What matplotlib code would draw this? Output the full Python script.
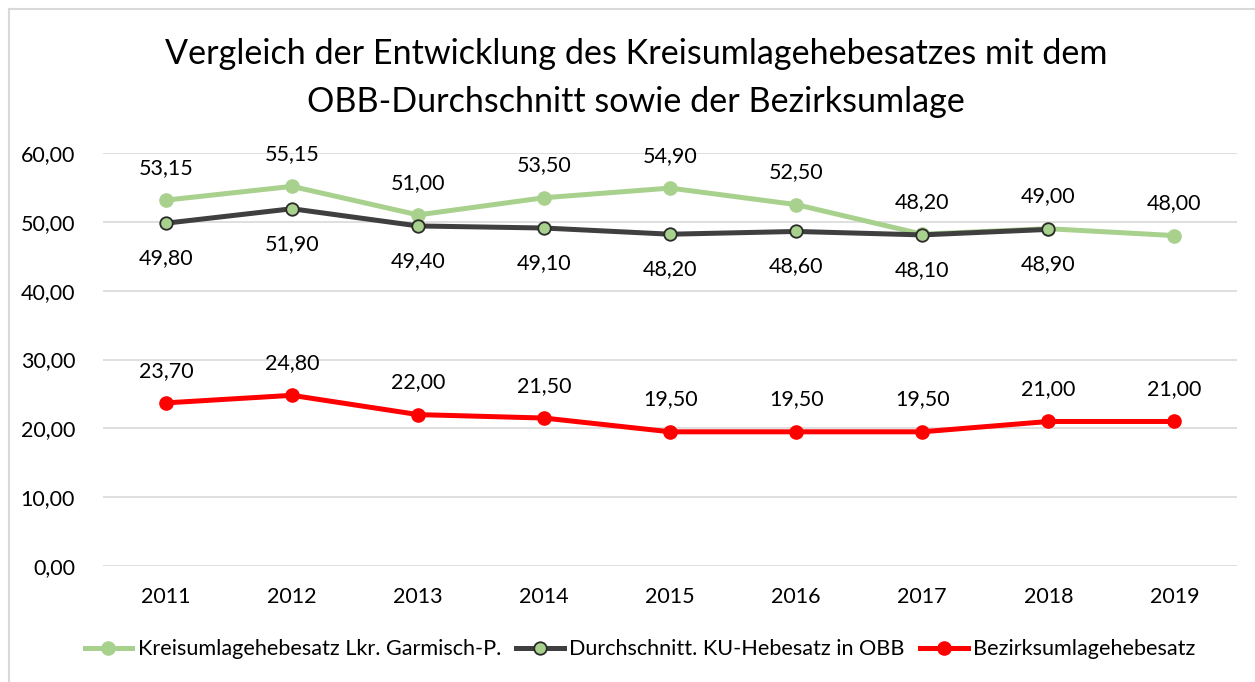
import matplotlib
matplotlib.use('Agg')
import matplotlib.pyplot as plt
from matplotlib.lines import Line2D

plt.rcParams['font.family'] = ['Lato', 'DejaVu Sans']

jahre = ['2011', '2012', '2013', '2014', '2015', '2016', '2017', '2018', '2019']
kreisumlage = [53.15, 55.15, 51.00, 53.50, 54.90, 52.50, 48.20, 49.00, 48.00]
obb_schnitt = [49.80, 51.90, 49.40, 49.10, 48.20, 48.60, 48.10, 48.90]
bezirksumlage = [23.70, 24.80, 22.00, 21.50, 19.50, 19.50, 19.50, 21.00, 21.00]

GRUEN = '#A9D18E'
SCHWARZ = '#3F3F3F'
ROT = '#FF0000'


def fmt(v):
    return f"{v:.2f}".replace('.', ',')


fig = plt.figure(figsize=(12.55, 6.82), dpi=100)
ax = fig.add_axes([0.082, 0.170, 0.904, 0.6057])

x = list(range(len(jahre)))

ax.plot(x, kreisumlage, color=GRUEN, lw=3.6, marker='o', ms=9.5,
        mfc=GRUEN, mec=GRUEN, label='Kreisumlagehebesatz Lkr. Garmisch-P.', zorder=3)
ax.plot(x[:len(obb_schnitt)], obb_schnitt, color=SCHWARZ, lw=3.6, marker='o', ms=9,
        mfc=GRUEN, mec='#2B2B2B', mew=1.3, label='Durchschnitt. KU-Hebesatz in OBB', zorder=4)
ax.plot(x, bezirksumlage, color=ROT, lw=3.6, marker='o', ms=9.5,
        mfc=ROT, mec=ROT, label='Bezirksumlagehebesatz', zorder=3)

# Datenbeschriftungen
for i, v in enumerate(kreisumlage):
    ax.annotate(fmt(v), (i, v), xytext=(0, 16), textcoords='offset points',
                ha='center', va='bottom', fontsize=15.5, color='#000000')
for i, v in enumerate(obb_schnitt):
    ax.annotate(fmt(v), (i, v), xytext=(0, -18), textcoords='offset points',
                ha='center', va='top', fontsize=15.5, color='#000000')
for i, v in enumerate(bezirksumlage):
    ax.annotate(fmt(v), (i, v), xytext=(0, 16), textcoords='offset points',
                ha='center', va='bottom', fontsize=15.5, color='#000000')

ax.set_xlim(-0.5, len(jahre) - 0.5)
ax.set_ylim(0, 60)
ax.set_yticks(range(0, 61, 10))
ax.set_yticklabels([fmt(t) for t in range(0, 61, 10)])
ax.set_xticks(x)
ax.set_xticklabels(jahre)
ax.tick_params(axis='both', length=0, labelsize=15.5, colors='#000000')
ax.tick_params(axis='y', pad=20)
ax.tick_params(axis='x', pad=15)
ax.grid(axis='y', color='#D9D9D9', lw=1.2)
ax.set_axisbelow(True)
for s in ax.spines.values():
    s.set_visible(False)

fig.text(0.507, 0.921, 'Vergleich der Entwicklung des Kreisumlagehebesatzes mit dem',
         ha='center', va='center', fontsize=24.6)
fig.text(0.507, 0.851, 'OBB-Durchschnitt sowie der Bezirksumlage',
         ha='center', va='center', fontsize=24.6)

fig.legend(loc='center', bbox_to_anchor=(0.51, 0.048), ncol=3, frameon=False,
           fontsize=15.6, handlelength=2.2, columnspacing=0.7, handletextpad=0.25)

# Rahmen oben/links
fig.add_artist(Line2D([0.0072, 0.0072], [0, 0.987], color='#D9D9D9', lw=1.5))
fig.add_artist(Line2D([0.0072, 1], [0.987, 0.987], color='#D9D9D9', lw=1.5))

fig.savefig('out.png', dpi=100)
